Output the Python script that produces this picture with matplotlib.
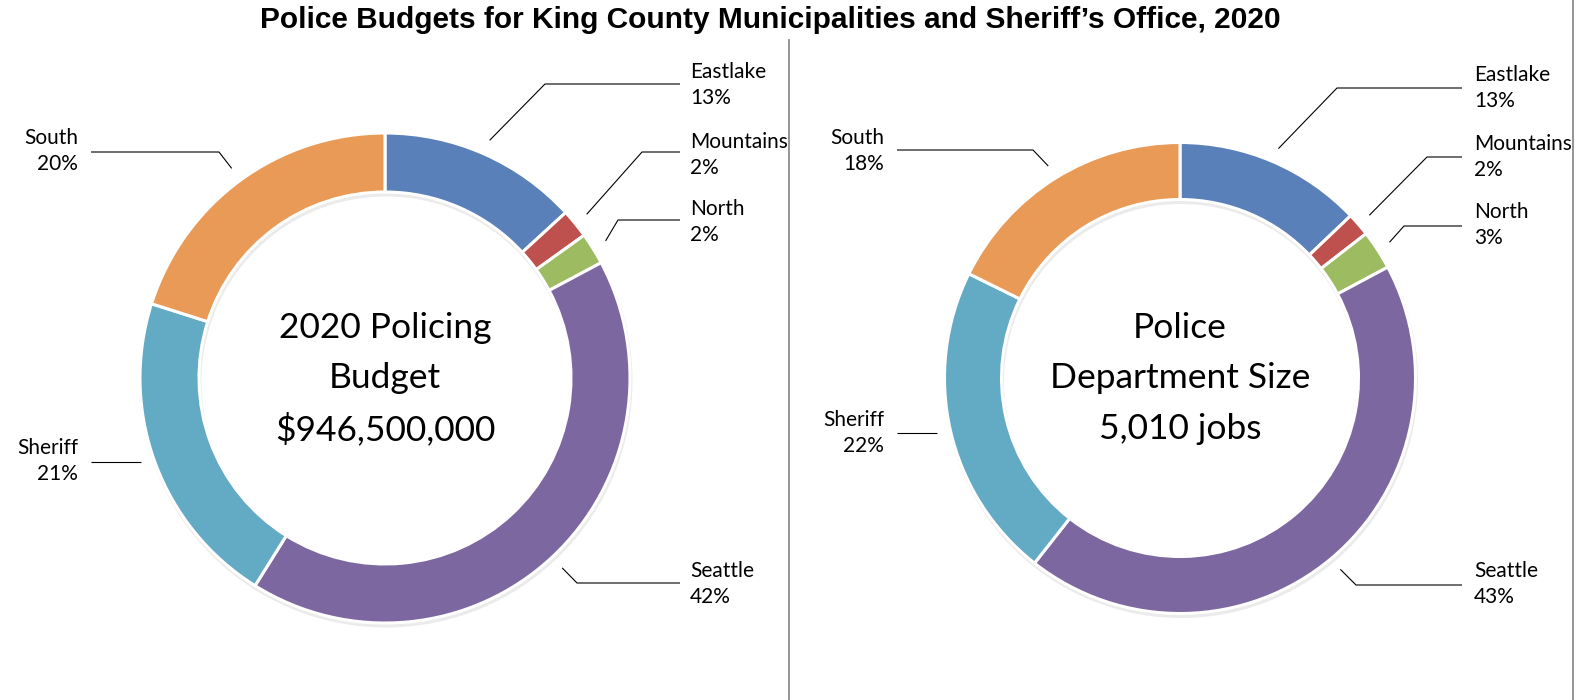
import numpy as np
import matplotlib
matplotlib.use("Agg")
import matplotlib.pyplot as plt

W, H = 1576, 700

# data (share of total, %)
regions = ["Eastlake", "Mountains", "North", "Seattle", "Sheriff", "South"]
budget_share = [13.2, 1.9, 2.1, 41.7, 21.0, 20.1]
jobs_share = [12.9, 1.6, 2.7, 43.4, 21.7, 17.7]
budget_center_text = ["2020 Policing", "Budget", "$946,500,000"]
jobs_center_text = ["Police", "Department Size", "5,010 jobs"]
title = "Police Budgets for King County Municipalities and Sheriff\u2019s Office, 2020"

colors = ["#5A80BA", "#BE504E", "#9DBB61", "#7D67A0", "#63AAC5", "#EA9A57"]

LABEL_FONT = ["Lato", "DejaVu Sans"]

# label layout in pixels (y measured from top): text x, text y, align, leader y, elbow x, leader end x
left_layout = {
    "Eastlake":  (690, 85, "left", 84, 545, 680),
    "Mountains": (690, 155, "left", 152, 642, 680),
    "North":     (690, 222, "left", 220, 618, 680),
    "Seattle":   (690, 584, "left", 583, 577, 680),
    "Sheriff":   (78, 461, "right", 462, None, 91),
    "South":     (78, 151, "right", 152, 219, 91),
}
right_layout = {
    "Eastlake":  (1474, 88, "left", 88, 1337, 1462),
    "Mountains": (1474, 157, "left", 157, 1427, 1462),
    "North":     (1474, 225, "left", 226, 1404, 1462),
    "Seattle":   (1474, 584, "left", 585, 1356, 1462),
    "Sheriff":   (884, 433, "right", 433, None, 897),
    "South":     (884, 151, "right", 150, 1033, 897),
}


def draw_donut(ax, values, cx, cy, r, ring, layout, center_lines):
    yc = H - cy
    # soft drop shadow under the ring
    ax.pie([1], colors=["black"], radius=r + 1.5, center=(cx + 1, yc - 3),
           startangle=90, counterclock=False,
           wedgeprops=dict(width=ring + 3, linewidth=0, alpha=0.08), frame=True)
    wedges, _ = ax.pie(values, colors=colors, radius=r, center=(cx, yc),
                       startangle=90, counterclock=False, frame=True,
                       wedgeprops=dict(width=ring, edgecolor="white", linewidth=2.2))
    total = float(sum(values))
    cum = np.cumsum([0] + list(values))
    for i, name in enumerate(regions):
        tx, ty, ha, ly, ex, endx = layout[name]
        mid = (cum[i] + cum[i + 1]) / 2 / total * 2 * np.pi
        ax_ = cx + 1.06 * r * np.sin(mid)
        ay_ = yc + 1.06 * r * np.cos(mid)
        if ex is None:
            xs = [ax_, endx]
            ys = [H - ly, H - ly]
        else:
            xs = [ax_, ex, endx]
            ys = [ay_, H - ly, H - ly]
        ax.plot(xs, ys, color="black", lw=0.8, solid_capstyle="butt")
        ax.text(tx, H - ty, "%s\n%d%%" % (name, round(values[i])), ha=ha, va="center",
                multialignment=ha, fontsize=15, family=LABEL_FONT, linespacing=1.35)
    for k, line in enumerate(center_lines):
        ax.text(cx, yc + 50 - 50.5 * k, line, ha="center", va="center",
                fontsize=25.5, family=LABEL_FONT)


fig = plt.figure(figsize=(W / 100, H / 100), dpi=100)
ax = fig.add_axes([0, 0, 1, 1])

draw_donut(ax, budget_share, 385, 378, 245, 59, left_layout, budget_center_text)
draw_donut(ax, jobs_share, 1180, 378, 235.5, 57, right_layout, jobs_center_text)

# panel separators
ax.plot([789, 789], [0, H - 40], color="#8C8C8C", lw=1.3)
ax.plot([1573, 1573], [0, H], color="#8C8C8C", lw=1.3)

ax.text(770, H - 20, title, ha="center", va="center", fontsize=21.5,
        fontweight="bold", family=["Liberation Sans", "DejaVu Sans"])

ax.set_xlim(0, W)
ax.set_ylim(0, H)
ax.set_aspect("auto")
ax.axis("off")

fig.savefig("out.png", dpi=100, facecolor="white")
